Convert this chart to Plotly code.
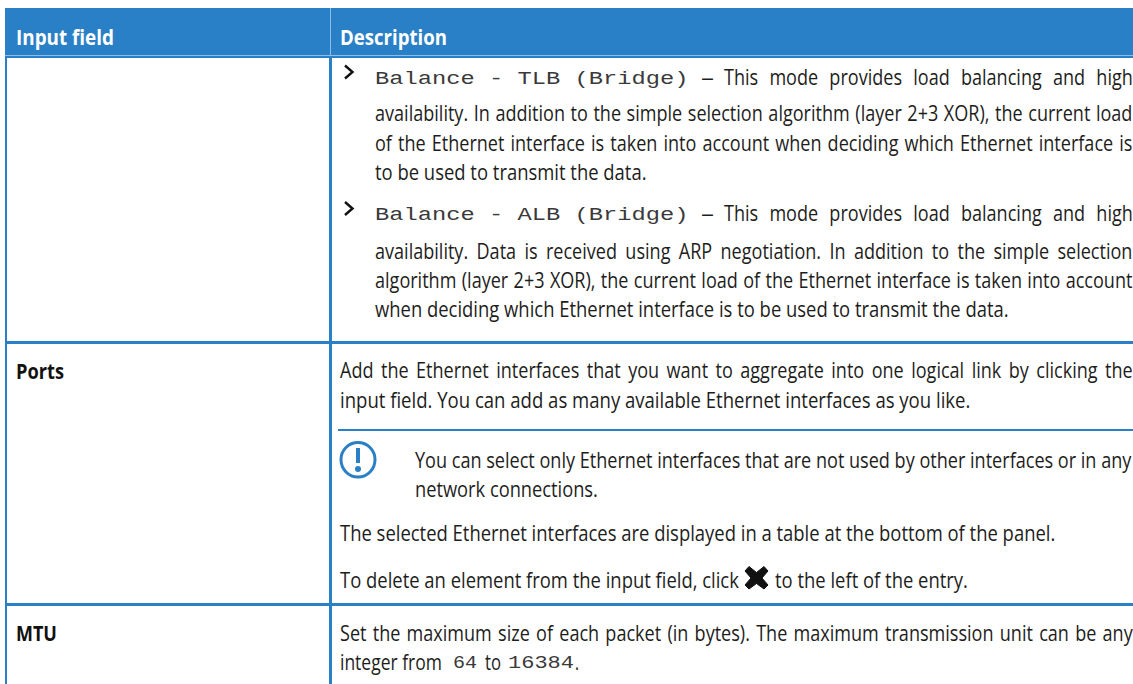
import json
import plotly.graph_objects as go

HEADERS = ["Input field", "Description"]
FIELDS = ["Ports", "MTU"]
MONO = ["Balance - TLB (Bridge)", "Balance - ALB (Bridge)", "64", "16384"]
DASH = "–"
LEAD = "This mode provides load balancing and high"
TLB_LINES = [
    "availability. In addition to the simple selection algorithm (layer 2+3 XOR), the current load",
    "of the Ethernet interface is taken into account when deciding which Ethernet interface is",
    "to be used to transmit the data.",
]
ALB_LINES = [
    "availability. Data is received using ARP negotiation. In addition to the simple selection",
    "algorithm (layer 2+3 XOR), the current load of the Ethernet interface is taken into account",
    "when deciding which Ethernet interface is to be used to transmit the data.",
]
PORT_LINES = [
    "Add the Ethernet interfaces that you want to aggregate into one logical link by clicking the",
    "input field. You can add as many available Ethernet interfaces as you like.",
]
NOTE_LINES = [
    "You can select only Ethernet interfaces that are not used by other interfaces or in any",
    "network connections.",
]
PANEL = "The selected Ethernet interfaces are displayed in a table at the bottom of the panel."
DEL_A = "To delete an element from the input field, click"
DEL_B = "to the left of the entry."
MTU_LINES = ["Set the maximum size of each packet (in bytes). The maximum transmission unit can be any",
             "integer from", "to", "."]

BLUE = "#2a80c6"
INK = "#1d1d1b"
MONO_INK = "#3a3a3a"
SANS = "Open Sans"
MONOF = "Liberation Mono"
SZ = 21
MSZ = 19
RIGHT = 1132
K = 0.86

fig = go.Figure()
anns, fits = [], []

def text(s, x, y, x1=None, font=SANS, size=SZ, color=INK, bold=False, justify=False):
    anns.append(dict(text=("<b>%s</b>" % s) if bold else s, x=x, y=y, xref="x", yref="y",
                     xanchor="left", yanchor="middle", align="left", showarrow=False,
                     borderpad=0, font=dict(family=font, size=size, color=color)))
    fits.append(None if x1 is None else ["W" if justify else "T", x1 - x])

def rect(x0, y0, x1, y1, c):
    fig.add_shape(type="rect", x0=x0, y0=y0, x1=x1, y1=y1, fillcolor=c, line_width=0, layer="below")

rect(5, 8, 1133, 58, BLUE)
rect(5, 55, 1133, 56, "#8dbde4")
rect(330, 8, 331, 55, "#8dbde4")
rect(329, 58, 332, 684, BLUE)
rect(5, 58, 7, 684, BLUE)
rect(5, 341, 1133, 344, BLUE)
rect(5, 603, 1133, 606, BLUE)
rect(338, 429, 1133, 431, BLUE)

text(HEADERS[0], 15, 37, 113, color="white", bold=True, size=21)
text(HEADERS[1], 339, 37, 446, color="white", bold=True, size=21)
text(FIELDS[0], 15, 371, 63, bold=True, color="#111111")
text(FIELDS[1], 15, 633, 56, bold=True, color="#111111")

for yc in (72, 208.5):
    fig.add_shape(type="path", path=f"M 345 {yc-6.5} L 352.5 {yc} L 345 {yc+6.5}",
                  line=dict(color="#111111", width=2.4))

TX = 374.3
for mono, lead, y in ((MONO[0], LEAD, 77), (MONO[1], LEAD, 213)):
    text(mono, 373.5, y + 2, 687, font=MONOF, size=MSZ, color=MONO_INK)
    text(DASH, 700, y, 713)
    text(lead, 723, y, RIGHT, justify=True)
text(TLB_LINES[0], TX, 113, RIGHT, justify=True)
text(TLB_LINES[1], TX, 143, RIGHT, justify=True)
text(TLB_LINES[2], TX, 172, 646)
text(ALB_LINES[0], TX, 251, RIGHT, justify=True)
text(ALB_LINES[1], TX, 280, RIGHT, justify=True)
text(ALB_LINES[2], TX, 309, 1008)

text(PORT_LINES[0], 339, 370, RIGHT, justify=True)
text(PORT_LINES[1], 339, 400, 970)
fig.add_shape(type="circle", x0=341, y0=442.5, x1=375, y1=477, line=dict(color=BLUE, width=3))
fig.add_shape(type="rect", x0=356, y0=448, x1=360, y1=463, fillcolor=BLUE, line_width=0)
fig.add_shape(type="circle", x0=355, y0=466, x1=361, y1=472, fillcolor=BLUE, line_width=0)
text(NOTE_LINES[0], 414, 460, 1131)
text(NOTE_LINES[1], 414, 489, 597)
text(PANEL, 339, 533, 1055)
text(DEL_A, 339, 580, 738)
fig.add_shape(type="path", path="M 749 566.5 L 756.5 572.5 L 764 566.5 L 768 571 L 762 578 L 768 585 L 764 589 L 756.5 583.5 L 749 589 L 745 585 L 751 578 L 745 571 Z",
              fillcolor="#111111", line=dict(color="#111111", width=1))
text(DEL_B, 774, 580, 967)
text(MTU_LINES[0], 339, 633, RIGHT, justify=True)
text(MTU_LINES[1], 339, 662, 441)
text(MONO[2], 452, 663, 476, font=MONOF, size=MSZ, color=MONO_INK)
text(MTU_LINES[2], 484, 662, 500)
text(MONO[3], 507, 663, 573, font=MONOF, size=MSZ, color=MONO_INK)
text(MTU_LINES[3], 574, 662, 578)

fig.update_layout(
    width=1133, height=684, margin=dict(l=0, r=0, t=0, b=0),
    paper_bgcolor="white", plot_bgcolor="white", showlegend=False, annotations=anns,
    xaxis=dict(range=[0, 1133], visible=False, fixedrange=True),
    yaxis=dict(range=[684, 0], visible=False, fixedrange=True),
)

post = """
document.body.style.margin = '0';
var FITS = %s, K = %f;
function fitAll() {
  document.querySelectorAll('.annotation').forEach(function (g) {
    var f = FITS[+g.getAttribute('data-index')];
    if (!f) return;
    var t = g.querySelector('text');
    t.removeAttribute('transform');
    t.style.wordSpacing = '0px';
    var w = t.getComputedTextLength(), s = t.textContent, n;
    if (f[0] === 'W') {
      n = s.split(' ').length - 1;
      t.style.wordSpacing = ((f[1] / K - w) / n) + 'px';
      w = f[1] / K;
    }
    var x = parseFloat(t.getAttribute('x')) || 0;
    t.setAttribute('transform', 'translate(' + x + ' 0) scale(' + (f[1] / w) + ' 1) translate(' + (-x) + ' 0)');
    g.querySelectorAll('rect').forEach(function (r) { r.setAttribute('width', f[1]); });
  });
}
fitAll();
window.addEventListener('load', fitAll);
if (document.fonts && document.fonts.ready) document.fonts.ready.then(fitAll);
""" % (json.dumps(fits), K)

fig.write_html("out.html", post_script=post, config={"displayModeBar": False})
